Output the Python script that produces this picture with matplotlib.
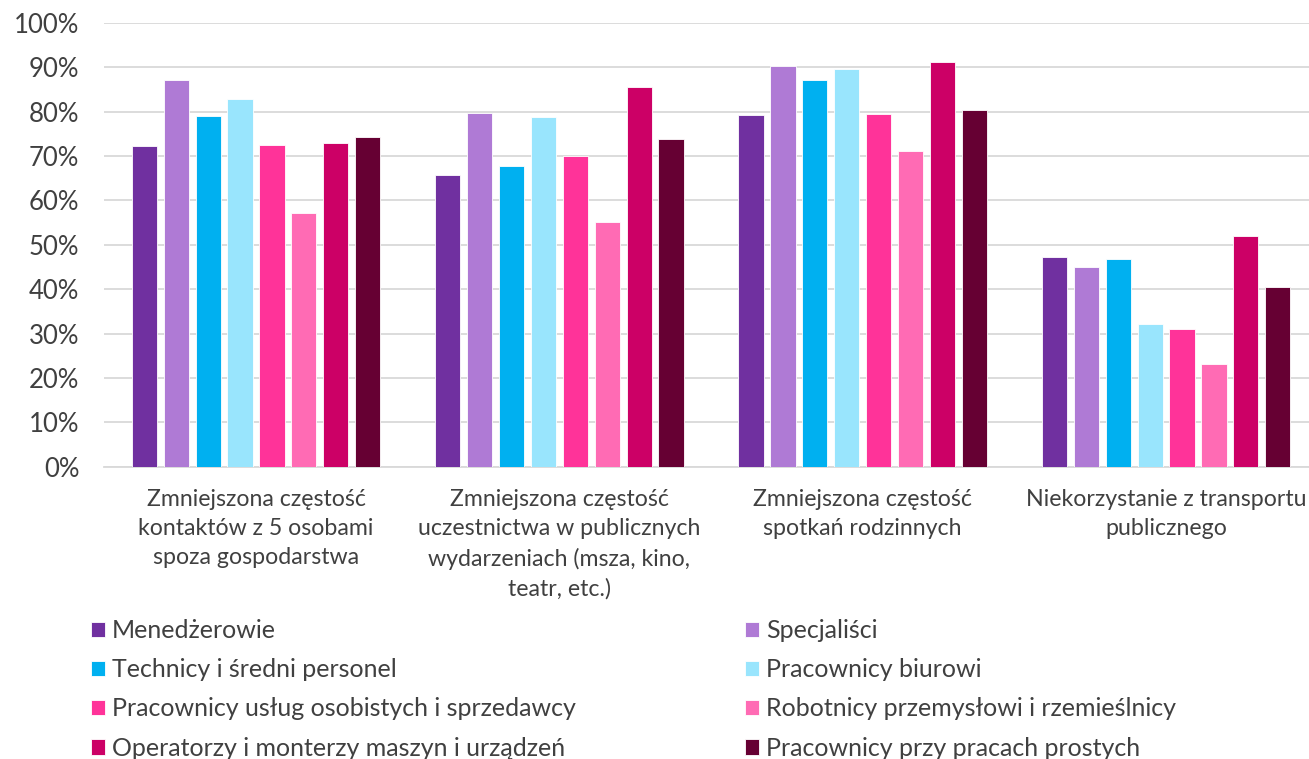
import numpy as np
import matplotlib.pyplot as plt
from matplotlib.ticker import FuncFormatter

#%% data (share of respondents)
categories = ["Zmniejszona częstość\nkontaktów z 5 osobami\nspoza gospodarstwa",
              "Zmniejszona częstość\nuczestnictwa w publicznych\nwydarzeniach (msza, kino,\nteatr, etc.)",
              "Zmniejszona częstość\nspotkań rodzinnych",
              "Niekorzystanie z transportu\npublicznego"]

series_names = ["Menedżerowie",
                "Specjaliści",
                "Technicy i średni personel",
                "Pracownicy biurowi",
                "Pracownicy usług osobistych i sprzedawcy",
                "Robotnicy przemysłowi i rzemieślnicy",
                "Operatorzy i monterzy maszyn i urządzeń",
                "Pracownicy przy pracach prostych"]

menedzerowie = [72.3, 65.7, 79.3, 47.3]
specjalisci = [87.1, 79.8, 90.3, 44.9]
technicy = [79.0, 67.7, 87.2, 46.8]
biurowi = [82.8, 78.9, 89.6, 32.1]
uslugi = [72.4, 70.1, 79.6, 31.0]
robotnicy = [57.2, 55.1, 71.2, 23.2]
operatorzy = [73.0, 85.6, 91.1, 52.1]
proste = [74.2, 73.8, 80.3, 40.5]

colors = ["#7030A0", "#AF7AD5", "#00B0F0", "#99E5FD",
          "#FF3399", "#FF6BB4", "#CC0066", "#660033"]

#%% plot
plt.rcParams['font.family'] = ['Lato', 'DejaVu Sans']
plt.rcParams['font.weight'] = 'normal'
text_color = "#404040"

fig = plt.figure(figsize=(13.09, 7.59), dpi=100)
ax = fig.add_axes([0.0797, 0.3851, 0.927, 0.5846])

all_series = [menedzerowie, specjalisci, technicy, biurowi, uslugi, robotnicy, operatorzy, proste]
x = np.arange(len(categories))
step = 0.1052
width = 0.083

handles = []
for i, vals in enumerate(all_series):
    b = ax.bar(x + (i - 3.5) * step, np.array(vals) / 100, width,
               color=colors[i], edgecolor="white", linewidth=0.6,
               label=series_names[i], zorder=3)
    handles.append(b)

ax.set_xlim(-0.5, 3.5)
ax.set_ylim(0, 1)
ax.set_yticks(np.arange(0, 1.01, 0.1))
ax.yaxis.set_major_formatter(FuncFormatter(lambda v, p: "%d%%" % round(v * 100)))
ax.grid(axis="y", color="#D9D9D9", linewidth=1.3, zorder=0)

for s in ["top", "right", "left"]:
    ax.spines[s].set_visible(False)
ax.spines["bottom"].set_color("#D9D9D9")
ax.spines["bottom"].set_linewidth(1.3)

ax.set_xticks(x)
ax.set_xticklabels(categories, fontsize=16.7, color=text_color, linespacing=1.47)
ax.tick_params(axis="x", length=0, pad=16)
ax.tick_params(axis="y", length=0, pad=18, labelsize=18.5, labelcolor=text_color)

# legend in two columns, filled row by row like the original
order = [0, 2, 4, 6, 1, 3, 5, 7]
leg = fig.legend([handles[k] for k in order], [series_names[k] for k in order],
                 loc="upper left", bbox_to_anchor=(91 / 1309, 1 - 619 / 759),
                 ncol=2, frameon=False, fontsize=18, labelcolor=text_color,
                 handlelength=0.56, handleheight=0.56, handletextpad=0.28,
                 labelspacing=0.65, columnspacing=6.76,
                 borderpad=0, borderaxespad=0)

plt.savefig("out.png", dpi=100)
